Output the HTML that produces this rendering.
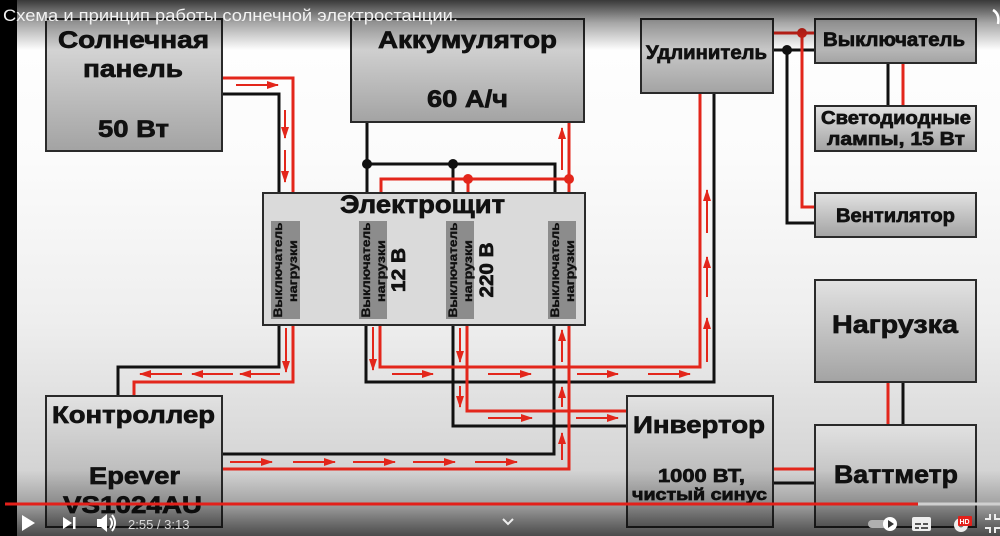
<!DOCTYPE html>
<html><head><meta charset="utf-8"><style>
html,body{margin:0;padding:0;width:1000px;height:536px;overflow:hidden;background:#f4f4f4}
svg{display:block}
text{font-family:"Liberation Sans",Arial,sans-serif;font-weight:bold;fill:#111}
.hv{stroke:#111;stroke-width:0.7px;paint-order:stroke}
.sm{stroke:#111;stroke-width:0.35px}
</style></head><body>
<svg width="1000" height="536" viewBox="0 0 1000 536" xmlns="http://www.w3.org/2000/svg">
<defs>
<linearGradient id="bg" x1="0" y1="0" x2="0" y2="1">
<stop offset="0" stop-color="#ffffff"/><stop offset="0.3" stop-color="#fbfbfb"/><stop offset="0.6" stop-color="#eeeeee"/><stop offset="0.9" stop-color="#d2d2d2"/><stop offset="1" stop-color="#c4c4c4"/>
</linearGradient>
<linearGradient id="box" x1="0" y1="0" x2="0" y2="1">
<stop offset="0" stop-color="#e2e2e2"/><stop offset="1" stop-color="#a3a3a3"/>
</linearGradient>
<linearGradient id="topov" x1="0" y1="0" x2="0" y2="1">
<stop offset="0" stop-color="#000" stop-opacity="0.78"/><stop offset="0.45" stop-color="#000" stop-opacity="0.35"/><stop offset="1" stop-color="#000" stop-opacity="0"/>
</linearGradient>
<linearGradient id="botov" x1="0" y1="0" x2="0" y2="1">
<stop offset="0" stop-color="#000" stop-opacity="0"/><stop offset="0.5" stop-color="#000" stop-opacity="0.2"/><stop offset="1" stop-color="#000" stop-opacity="0.62"/>
</linearGradient>
<marker id="ah" markerWidth="12" markerHeight="8" refX="11" refY="4" orient="auto" markerUnits="userSpaceOnUse">
<path d="M0,0 L12,4 L0,8 z" fill="#e3261b"/>
</marker>
</defs>

<rect x="0" y="0" width="1000" height="536" fill="url(#bg)"/>

<!-- wires black -->
<g fill="none" stroke="#111" stroke-width="3">
<path d="M222,94 H279 V193"/>
<path d="M367,122 V193 M367,164 H555 V193 M453,164 V193"/>
<path d="M279,325 V367 H118 V396"/>
<path d="M366,325 V382 H714 V93"/>
<path d="M453,325 V426 H627"/>
<path d="M554,325 V454 H222"/>
<path d="M773,483 H815"/>
<path d="M903,382 V425"/>
<path d="M773,50 H815 M787,50 V223 H815"/>
<path d="M888,63 V106"/>
</g>
<!-- wires red -->
<g fill="none" stroke="#e3261b" stroke-width="3">
<path d="M222,78 H293 V193"/>
<path d="M569,122 V193 M381,193 V179 H569 M468,179 V193"/>
<path d="M293,325 V382 H134 V396"/>
<path d="M380,325 V367 H700 V93"/>
<path d="M467,325 V411 H627"/>
<path d="M569,325 V469 H222"/>
<path d="M773,469 H815"/>
<path d="M888,382 V425"/>
<path d="M773,33 H815 M802,33 V207 H815"/>
<path d="M903,63 V106"/>
</g>
<g fill="#111"><circle cx="367" cy="164" r="5"/><circle cx="453" cy="164" r="5"/><circle cx="787" cy="50" r="5"/></g>
<g fill="#e3261b"><circle cx="468" cy="179" r="5"/><circle cx="569" cy="179" r="5"/><circle cx="802" cy="33" r="5"/></g>

<!-- arrows -->
<g stroke="#e3261b" stroke-width="2" marker-end="url(#ah)" fill="none">
<path d="M236,85 H278"/>
<path d="M285,110 V138"/><path d="M285,150 V182"/>
<path d="M562,170 V128"/>
<path d="M286,328 V372"/>
<path d="M182,374 H140"/><path d="M233,374 H192"/><path d="M280,374 H240"/>
<path d="M373,327 V370"/>
<path d="M392,374 H433"/><path d="M488,374 H531"/><path d="M577,374 H618"/><path d="M648,374 H690"/>
<path d="M707,362 V318"/><path d="M707,297 V257"/><path d="M707,233 V190"/>
<path d="M460,328 V362"/><path d="M460,386 V407"/>
<path d="M488,418 H532"/><path d="M576,418 H618"/>
<path d="M562,362 V330"/><path d="M562,407 V387"/><path d="M562,460 V433"/>
<path d="M230,462 H272"/><path d="M293,462 H335"/><path d="M353,462 H395"/><path d="M413,462 H455"/><path d="M475,462 H517"/>
</g>

<!-- boxes -->
<g stroke="#2a2a2a" stroke-width="2" fill="url(#box)">
<rect x="46" y="19" width="176" height="132"/>
<rect x="351" y="19" width="233" height="103"/>
<rect x="641" y="19" width="132" height="74"/>
<rect x="815" y="19" width="161" height="44"/>
<rect x="815" y="106" width="161" height="45"/>
<rect x="815" y="193" width="161" height="44"/>
<rect x="46" y="396" width="176" height="131"/>
<rect x="627" y="396" width="146" height="131"/>
<rect x="815" y="280" width="161" height="102"/>
<rect x="815" y="425" width="161" height="102"/>
<rect x="263" y="193" width="322" height="132" fill="#dadada"/>
</g>
<g fill="#8c8c8c">
<rect x="271" y="221" width="29" height="98"/>
<rect x="359" y="221" width="28" height="98"/>
<rect x="446" y="221" width="28" height="98"/>
<rect x="548" y="221" width="28" height="98"/>
</g>

<!-- box texts -->
<g class="hv">
<text x="58" y="48" font-size="24" textLength="151" lengthAdjust="spacingAndGlyphs">Солнечная</text>
<text x="83" y="77" font-size="24" textLength="100" lengthAdjust="spacingAndGlyphs">панель</text>
<text x="98" y="137" font-size="24" textLength="71" lengthAdjust="spacingAndGlyphs">50 Вт</text>
<text x="378" y="48" font-size="24" textLength="179" lengthAdjust="spacingAndGlyphs">Аккумулятор</text>
<text x="427" y="107" font-size="24" textLength="81" lengthAdjust="spacingAndGlyphs">60 А/ч</text>
<text x="646" y="59" font-size="19" textLength="121" lengthAdjust="spacingAndGlyphs">Удлинитель</text>
<text x="823" y="46" font-size="19" textLength="142" lengthAdjust="spacingAndGlyphs">Выключатель</text>
<text x="821" y="124" font-size="18" textLength="150" lengthAdjust="spacingAndGlyphs">Светодиодные</text>
<text x="827" y="145" font-size="18" textLength="138" lengthAdjust="spacingAndGlyphs">лампы, 15 Вт</text>
<text x="836" y="222" font-size="19" textLength="119" lengthAdjust="spacingAndGlyphs">Вентилятор</text>
<text x="340" y="213" font-size="25" textLength="165" lengthAdjust="spacingAndGlyphs">Электрощит</text>
<text x="52" y="423" font-size="24" textLength="163" lengthAdjust="spacingAndGlyphs">Контроллер</text>
<text x="89" y="484" font-size="24" textLength="91" lengthAdjust="spacingAndGlyphs">Epever</text>
<text x="63" y="513" font-size="24" textLength="139" lengthAdjust="spacingAndGlyphs">VS1024AU</text>
<text x="633" y="433" font-size="24" textLength="132" lengthAdjust="spacingAndGlyphs">Инвертор</text>
<text x="658" y="482" font-size="18" textLength="87" lengthAdjust="spacingAndGlyphs">1000 ВТ,</text>
<text x="632" y="500" font-size="17" textLength="135" lengthAdjust="spacingAndGlyphs">чистый синус</text>
<text x="832" y="333" font-size="25" textLength="126" lengthAdjust="spacingAndGlyphs">Нагрузка</text>
<text x="834" y="483" font-size="25" textLength="124" lengthAdjust="spacingAndGlyphs">Ваттметр</text>
</g>

<!-- rotated switch labels -->
<g font-size="12" text-anchor="middle" class="sm">
<text transform="translate(282,270) rotate(-90)" textLength="95" lengthAdjust="spacingAndGlyphs">Выключатель</text>
<text transform="translate(297,271) rotate(-90)" textLength="62" lengthAdjust="spacingAndGlyphs">нагрузки</text>
<text transform="translate(370,270) rotate(-90)" textLength="95" lengthAdjust="spacingAndGlyphs">Выключатель</text>
<text transform="translate(385,271) rotate(-90)" textLength="62" lengthAdjust="spacingAndGlyphs">нагрузки</text>
<text transform="translate(457,270) rotate(-90)" textLength="95" lengthAdjust="spacingAndGlyphs">Выключатель</text>
<text transform="translate(472,271) rotate(-90)" textLength="62" lengthAdjust="spacingAndGlyphs">нагрузки</text>
<text transform="translate(559,270) rotate(-90)" textLength="95" lengthAdjust="spacingAndGlyphs">Выключатель</text>
<text transform="translate(574,271) rotate(-90)" textLength="62" lengthAdjust="spacingAndGlyphs">нагрузки</text>
</g>
<g class="hv">
<text transform="translate(405,270) rotate(-90)" font-size="19" text-anchor="middle" textLength="44" lengthAdjust="spacingAndGlyphs">12 В</text>
<text transform="translate(493,270) rotate(-90)" font-size="19" text-anchor="middle" textLength="55" lengthAdjust="spacingAndGlyphs">220 В</text>
</g>

<!-- overlays -->
<rect x="0" y="0" width="1000" height="50" fill="url(#topov)"/>
<rect x="0" y="470" width="1000" height="66" fill="url(#botov)"/>
<rect x="0" y="0" width="17" height="536" fill="#000"/>
<text x="3" y="21" font-size="17" style="font-weight:normal;fill:#f2f2f2" textLength="455" lengthAdjust="spacingAndGlyphs">Схема и принцип работы солнечной электростанции.</text>
<path d="M993,10 Q1000,14 998,24" stroke="#fff" stroke-width="2.5" fill="none"/>

<!-- progress bar -->
<rect x="918" y="502.5" width="82" height="3" fill="#cfcfcf"/>
<rect x="5" y="502.5" width="913" height="3" fill="#e3201a"/>

<!-- controls -->
<g fill="#fff">
<polygon points="22,515 22,531 35,523"/>
<polygon points="63,517 63,529 72,523"/><rect x="73" y="517" width="2.5" height="12"/>
<polygon points="97,519 101,519 107,514 107,532 101,527 97,527"/>
<path d="M110,518 Q114,523 110,528" stroke="#fff" stroke-width="2" fill="none"/>
<path d="M112,515 Q118,523 112,531" stroke="#fff" stroke-width="2" fill="none"/>
</g>
<text x="128" y="529" font-size="13" style="font-weight:normal;fill:#d8d8d8">2:55 / 3:13</text>
<polyline points="503,519 508,524 513,519" stroke="#eee" stroke-width="2" fill="none"/>
<rect x="868" y="520" width="22" height="8" rx="4" fill="#b0b0b0"/>
<circle cx="890" cy="524" r="7" fill="#fff"/>
<polygon points="888,520 888,528 894,524" fill="#333"/>
<rect x="912" y="517" width="19" height="14" rx="2" fill="#eee"/>
<rect x="915" y="523" width="6" height="2" fill="#555"/><rect x="923" y="523" width="5" height="2" fill="#555"/>
<rect x="915" y="527" width="4" height="2" fill="#555"/><rect x="921" y="527" width="7" height="2" fill="#555"/>
<circle cx="961" cy="525" r="7" fill="#eee"/><circle cx="961" cy="525" r="2.5" fill="#777"/>
<rect x="958" y="516" width="14" height="10" rx="1" fill="#e3201a"/>
<text x="959.5" y="524" font-size="7" style="fill:#fff">HD</text>
<g stroke="#eee" stroke-width="2" fill="none">
<path d="M985,519 H990 V514"/><path d="M1000,519 H995 V514"/>
<path d="M985,528 H990 V533"/><path d="M1000,528 H995 V533"/>
</g>
</svg>
</body></html>
